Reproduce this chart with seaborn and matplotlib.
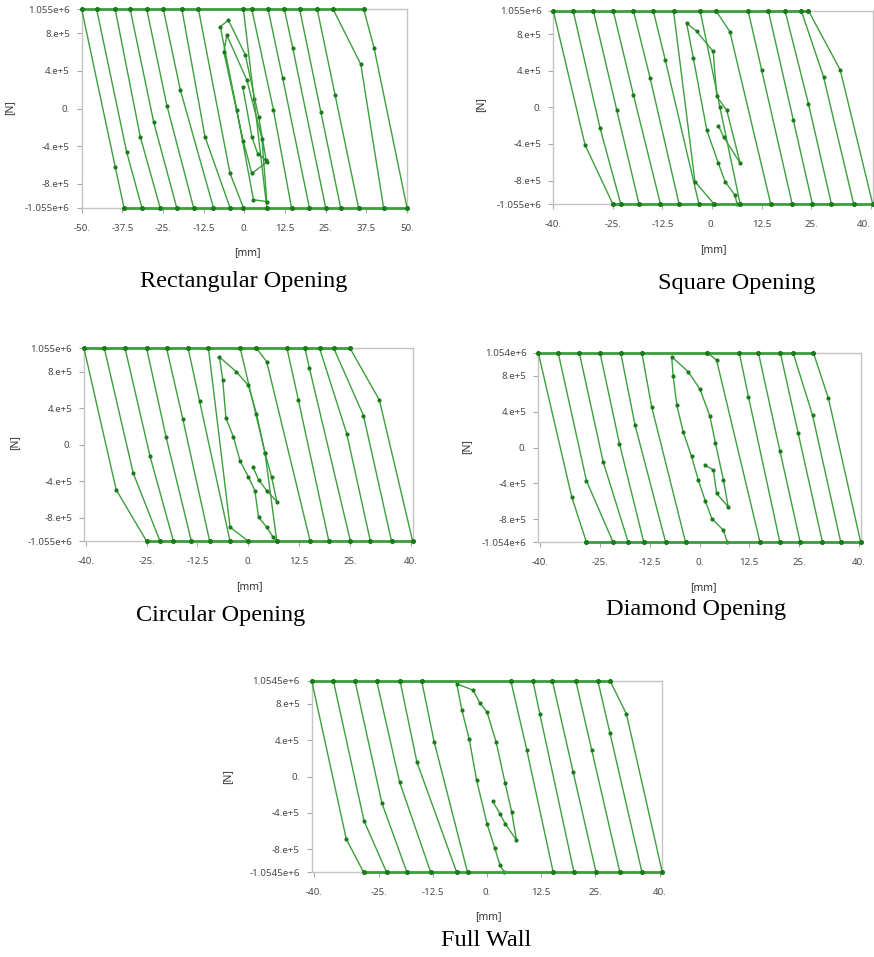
import numpy as np
import pandas as pd
import matplotlib
matplotlib.use("Agg")
import matplotlib.pyplot as plt
import seaborn as sns

# ---------------- data (displacement in mm, force in 1e5 N) ----------------
titles = ["Rectangular Opening", "Square Opening", "Circular Opening", "Diamond Opening", "Full Wall"]
peaks = [1.055e6, 1.055e6, 1.055e6, 1.054e6, 1.0545e6]
peak_labels = ["1.055e+6", "1.055e+6", "1.055e+6", "1.054e+6", "1.0545e+6"]

# Rectangular opening: diagonal branches (top x, kink x, kink F, bottom x)
rect_top = [-50.0, -45.4, -39.7, -35.1, -30.0, -24.9, -19.2, -14.1, -0.3, 2.3, 7.3, 12.3, 17.0, 22.4, 27.3, 36.7]
rect_kx = [-39.7, -36.2, -32.0, -27.9, -23.8, -19.7, -12.1, -4.4, 3.0, 8.95, 11.8, 14.9, 23.5, 27.9, 35.8, 39.9]
rect_ky = [-6.2, -4.6, -3.0, -1.4, 0.3, 2.0, -3.0, -6.9, 1.0, -0.16, 3.2, 6.4, -0.34, 1.43, 4.7, 6.4]
rect_bot = [-37.0, -31.5, -25.9, -20.8, -15.6, -9.5, -4.4, -0.3, 6.9, 14.5, 20.0, 25.0, 29.6, 35.1, 42.8, 50.0]
rect_cx = [-0.5, 2.3, 4.1, 6.7, 4.4, 0.3, -4.9, -7.4, -2.3, 2.8, 6.9, 5.4, 0.8, -5.4, -6.3, -0.3, 2.3, 6.9]
rect_cy = [2.3, -3.0, -4.8, -5.5, -0.9, 5.7, 9.4, 8.7, -0.2, -9.7, -9.9, -3.2, 3.0, 7.8, 6.0, -3.5, -6.9, -5.7]

# Square opening
sq_top = [-40.0, -35.0, -29.9, -24.9, -19.8, -14.8, -9.7, -3.0, 1.0, 9.1, 14.2, 18.4, 22.5, 24.3]
sq_kx = [-32.0, -28.2, -24.0, -19.8, -15.6, -11.8, -4.3, 2.0, 4.5, 12.5, 20.5, 24.3, 28.1, 32.3]
sq_ky = [-4.1, -2.3, -0.3, 1.35, 3.2, 5.2, -8.1, 0.0, 8.26, 4.1, -1.4, 0.4, 3.35, 4.1]
sq_bot = [-25.0, -23.0, -18.4, -13.0, -8.3, -3.3, 0.5, 7.1, 14.8, 20.2, 25.3, 30.1, 35.7, 40.5]
sq_cx = [1.6, 2.9, 7.1, 3.7, 1.2, 0.3, -3.9, -6.4, -4.7, -1.3, 1.6, 3.3, 5.8, 6.3]
sq_cy = [-2.0, -3.2, -6.1, -0.3, 1.2, 6.1, 8.3, 9.2, 5.35, -2.5, -6.1, -8.1, -9.6, -10.55]

# Circular opening
ci_top = [-40.4, -35.4, -30.3, -25.0, -20.1, -14.8, -9.8, -2.0, 2.0, 9.5, 13.9, 17.5, 21.0, 25.0]
ci_kx = [-32.5, -28.3, -24.2, -20.2, -16.1, -12.0, -4.5, 4.1, 4.5, 12.3, 15.0, 24.2, 28.3, 32.2]
ci_ky = [-4.9, -3.1, -1.2, 0.8, 2.8, 4.8, -9.0, -0.9, 9.1, 4.9, 8.4, 1.2, 3.2, 4.9]
ci_bot = [-25.0, -21.7, -18.4, -14.0, -9.5, -4.5, 0.0, 7.0, 15.2, 19.8, 25.1, 30.0, 35.2, 40.4]
ci_cx = [1.1, 2.5, 4.5, 7.0, 5.7, 4.1, 2.0, 0.0, -3.0, -7.1, -6.3, -5.5, -3.7, -2.0, 0.0, 1.6, 2.5, 4.5, 6.1, 7.0]
ci_cy = [-2.4, -3.8, -5.0, -6.2, -3.5, -0.9, 3.4, 6.5, 8.0, 9.6, 7.1, 2.9, 0.9, -1.8, -3.5, -5.0, -7.9, -9.0, -10.1, -10.55]

# Diamond opening
di_top = [-40.5, -35.5, -30.2, -25.0, -19.8, -14.5, 2.0, 10.0, 14.8, 20.3, 23.5, 28.6]
di_kx = [-32.1, -28.4, -24.2, -20.1, -16.2, -12.0, 4.3, 12.3, 20.2, 24.8, 28.4, 32.4]
di_ky = [-5.5, -3.7, -1.6, 0.4, 2.5, 4.5, 9.7, 5.65, -0.36, 1.57, 3.6, 5.46]
di_bot = [-28.4, -21.7, -17.9, -14.0, -8.5, -3.5, 15.2, 20.2, 25.3, 30.9, 35.5, 40.5]
di_cx = [1.5, 3.5, 4.3, 7.2, 6.0, 4.0, 2.6, 0.1, -2.8, -7.0, -6.6, -5.7, -4.1, -2.0, -0.3, 1.5, 3.1, 6.0, 7.0]
di_cy = [-2.0, -2.5, -5.1, -6.6, -3.6, 0.5, 3.5, 6.5, 8.4, 10.1, 7.9, 4.7, 1.75, -1.0, -3.6, -6.0, -7.9, -9.2, -10.54]

# Full wall
fw_top = [-40.5, -35.5, -30.5, -25.5, -20.1, -15.1, 5.5, 10.6, 15.1, 20.5, 25.6, 28.4]
fw_kx = [-32.5, -28.4, -24.3, -20.2, -16.2, -12.2, 9.2, 12.2, 19.9, 24.2, 28.4, 32.2]
fw_ky = [-6.9, -4.9, -2.9, -0.6, 1.6, 3.8, 2.9, 6.9, 0.5, 2.9, 4.8, 6.9]
fw_bot = [-28.5, -23.2, -18.5, -13.0, -7.0, -4.5, 15.3, 20.1, 25.2, 30.7, 35.8, 40.5]
fw_cx = [1.3, 3.0, 4.2, 6.8, 5.7, 4.2, 2.1, 0.0, -1.6, -3.2, -7.0, -5.8, -4.1, -2.4, 0.0, 1.8, 3.0, 4.0]
fw_cy = [-2.7, -4.1, -5.2, -7.0, -3.9, -0.75, 3.8, 7.1, 8.05, 9.5, 10.2, 7.3, 4.1, -0.4, -5.2, -7.9, -9.75, -10.545]

xticks_rect = [-50, -37.5, -25, -12.5, 0, 12.5, 25, 37.5, 50]
xlabels_rect = ["-50.", "-37.5", "-25.", "-12.5", "0.", "12.5", "25.", "37.5", "50."]
xticks_40 = [-40, -25, -12.5, 0, 12.5, 25, 40]
xlabels_40 = ["-40.", "-25.", "-12.5", "0.", "12.5", "25.", "40."]

panels = [
    (rect_top, rect_kx, rect_ky, rect_bot, rect_cx, rect_cy),
    (sq_top, sq_kx, sq_ky, sq_bot, sq_cx, sq_cy),
    (ci_top, ci_kx, ci_ky, ci_bot, ci_cx, ci_cy),
    (di_top, di_kx, di_ky, di_bot, di_cx, di_cy),
    (fw_top, fw_kx, fw_ky, fw_bot, fw_cx, fw_cy),
]
xlims = [(-50, 50), (-40, 40.5), (-40.4, 40.4), (-40.5, 40.5), (-40.5, 40.5)]

# ---------------- layout (pixel boxes: left, top, right, bottom) ----------------
W, H = 874, 957
boxes = [(81.7, 9.3, 407, 207.7), (553.3, 10.7, 872.7, 204), (84, 348.3, 412.7, 541.3),
         (538.3, 352.7, 860.7, 542.3), (311.7, 680.7, 662.3, 872.3)]
mm_pos = [(247, 253), (713, 250), (249, 587), (703, 588), (488, 917)]
n_pos = [(10, 108), (481, 105), (15, 443), (467, 447), (228, 777)]
title_pos = [(244, 282), (737, 284), (221, 616), (696, 610), (486, 941)]

sns.set_theme(style="white")
plt.rcParams['font.family'] = ['Noto Sans', 'DejaVu Sans']

LINE = "#3c9f3c"
DOT = "#1b7a1b"
SPINE = "#c4c4c4"

fig = plt.figure(figsize=(W / 100, H / 100), dpi=100)

for i, (top, kx, ky, bot, cx, cy) in enumerate(panels):
    l, t, r, b = boxes[i]
    ax = fig.add_axes([l / W, 1 - b / H, (r - l) / W, (b - t) / H])
    pk = peaks[i]
    rows = []
    seg = 0
    for tx, kxx, kyy, bx in zip(top, kx, ky, bot):
        for xx, yy in ((tx, pk), (kxx, kyy * 1e5), (bx, -pk)):
            rows.append((xx, yy, seg))
        seg += 1
    for xx, yy in zip(cx, cy):
        rows.append((xx, yy * 1e5, seg))
    df = pd.DataFrame(rows, columns=["x", "y", "seg"])

    hrows = []
    for xx in sorted(top):
        hrows.append((xx, pk, 0))
    for xx in sorted(bot):
        hrows.append((xx, -pk, 1))
    dfh = pd.DataFrame(hrows, columns=["x", "y", "seg"])

    sns.lineplot(data=df, x="x", y="y", units="seg", estimator=None, sort=False, ax=ax,
                 color=LINE, lw=1.0, marker="o", markersize=3.0, markerfacecolor=DOT,
                 markeredgecolor=DOT, markeredgewidth=0, legend=False, clip_on=False, zorder=4)
    sns.lineplot(data=dfh, x="x", y="y", units="seg", estimator=None, sort=False, ax=ax,
                 color=LINE, lw=2.0, marker="o", markersize=3.6, markerfacecolor=DOT,
                 markeredgecolor=DOT, markeredgewidth=0, legend=False, clip_on=False, zorder=4)
    ax.set_xlim(*xlims[i])
    ax.set_ylim(-pk, pk)
    if i == 0:
        ax.set_xticks(xticks_rect)
        ax.set_xticklabels(xlabels_rect)
    else:
        ax.set_xticks(xticks_40)
        ax.set_xticklabels(xlabels_40)
    if i == 1:
        ax.get_xticklabels()[-1].set_ha("right")
    ax.set_yticks([-pk, -8e5, -4e5, 0, 4e5, 8e5, pk])
    ax.set_yticklabels(["-" + peak_labels[i], "-8.e+5", "-4.e+5", "0.", "4.e+5", "8.e+5", peak_labels[i]])
    ax.set_xlabel("")
    ax.set_ylabel("")
    for s in ax.spines.values():
        s.set_color(SPINE)
        s.set_linewidth(1.0)
        s.set_zorder(1)
    ax.tick_params(axis="both", which="both", length=3.5, width=0.8, color="#a8a8a8",
                   labelsize=7, labelcolor="#4a4a4a", left=True, bottom=True)
    ax.tick_params(axis="x", pad=8)
    ax.tick_params(axis="y", pad=5)
    ax.set_facecolor("white")

    fig.text(mm_pos[i][0] / W, 1 - mm_pos[i][1] / H, "[mm]", ha="center", va="center",
             fontsize=7.5, fontweight="bold", color="#333333")
    fig.text(n_pos[i][0] / W, 1 - n_pos[i][1] / H, "[N]", ha="center", va="center",
             fontsize=7.5, fontweight="bold", color="#333333", rotation=90)
    fig.text(title_pos[i][0] / W, 1 - title_pos[i][1] / H, titles[i], ha="center", va="center",
             fontsize=17.5, family="Liberation Serif", color="black")

fig.savefig("out.png", dpi=100, facecolor="white")
